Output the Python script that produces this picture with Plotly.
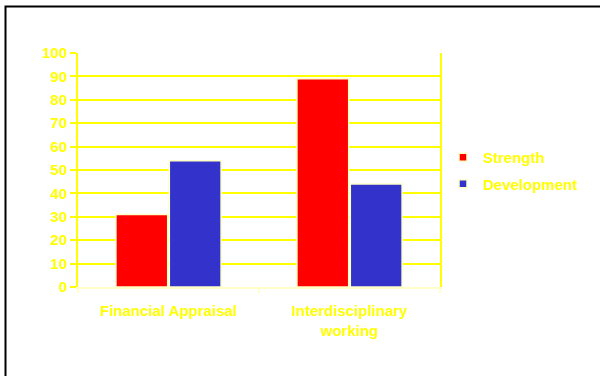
import plotly.graph_objects as go

categories = ["Financial Appraisal", "Interdisciplinary<br>working"]
series_names = ["Strength", "Development"]
strength = [31, 89]
development = [54, 44]
y_ticks = [0, 10, 20, 30, 40, 50, 60, 70, 80, 90, 100]

YELLOW = "#FFFF00"
PALE = "#FFFFC8"
colors = ["#FF0000", "#3333CC"]
FONT = "Liberation Sans, Arial, sans-serif"

fig = go.Figure()
for name, vals, c in zip(series_names, [strength, development], colors):
    fig.add_trace(go.Bar(
        x=categories, y=vals, name=name, showlegend=False,
        marker=dict(color=c, line=dict(color=PALE, width=1.5)),
    ))
for i, (name, c) in enumerate(zip(series_names, colors)):
    fig.add_trace(go.Scatter(
        x=[None], y=[None], mode="markers", name=name, legendgroup=f"g{i}",
        marker=dict(symbol="square", size=8, color=c, line=dict(color=PALE, width=1.5)),
    ))

L, R, T, B = 78, 440, 53, 287
W, H = 600, 376

def px(xp):
    return (xp - L) / (R - L)

def py(yp):
    return (B - yp) / (B - T)

fig.add_shape(
    type="path", xref="paper", yref="paper",
    path=f"M {px(5.5)} {py(420)} L {px(5.5)} {py(6.5)} L {px(640)} {py(6.5)}",
    line=dict(color="black", width=2),
)

fig.update_layout(
    width=W, height=H,
    margin=dict(l=L, r=W - R, t=T, b=H - B, pad=0),
    paper_bgcolor="white", plot_bgcolor="white",
    barmode="group", bargap=0.41, bargroupgap=0.03,
    font=dict(family=FONT, color=YELLOW, size=15),
    legend=dict(
        x=px(443), y=py(141), xanchor="left", yanchor="top",
        font=dict(family=FONT, color=YELLOW, size=15, weight="bold"),
        tracegroupgap=4, traceorder="grouped",
        bgcolor="rgba(0,0,0,0)",
    ),
    xaxis=dict(
        showline=True, linecolor=PALE, linewidth=2,
        ticks="outside", tickson="boundaries", ticklen=4, tickcolor=PALE, tickwidth=2,
        tickfont=dict(family=FONT, color=YELLOW, size=15, weight="bold"),
        ticklabelstandoff=9,
        showgrid=False,
    ),
    yaxis=dict(
        range=[0, 100], tickvals=y_ticks, ticktext=[str(v) for v in y_ticks],
        showline=True, linecolor=YELLOW, linewidth=2, mirror=True,
        ticks="outside", ticklen=6, tickcolor=YELLOW, tickwidth=2,
        showgrid=True, gridcolor=YELLOW, gridwidth=2,
        zeroline=False,
        tickfont=dict(family=FONT, color=YELLOW, size=15, weight="bold"),
    ),
)

fig.write_html("out.html")
